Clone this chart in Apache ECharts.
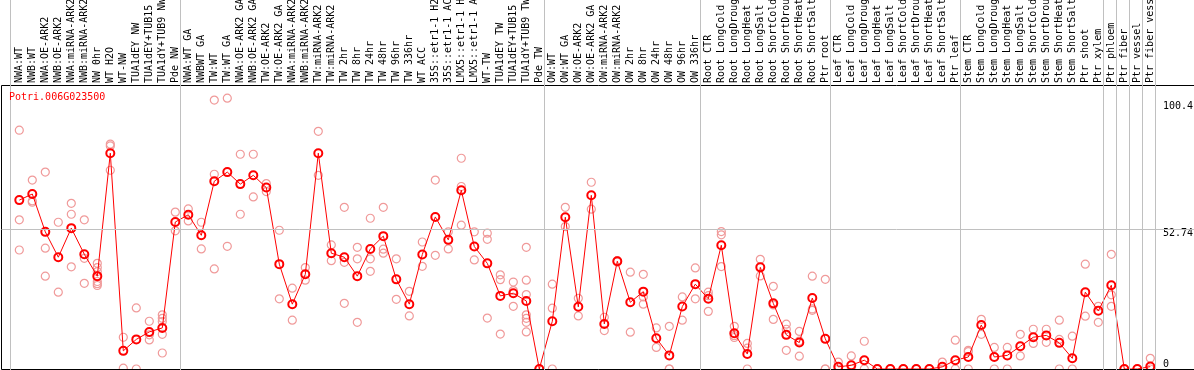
<!DOCTYPE html>
<html><head><meta charset="utf-8">
<script src="https://cdn.jsdelivr.net/npm/echarts@6/dist/echarts.min.js"></script>
<style>html,body{margin:0;padding:0;background:#fff;}#c{width:1194px;height:370px;}</style>
</head><body><div id="c"></div>
<script>
const chartTitle = 'Potri.006G023500';

const categories = [
 'NWA:WT','NWB:WT','NWA:OE-ARK2','NWB:OE-ARK2','NWA:miRNA-ARK2','NWB:miRNA-ARK2','NW 0hr','WT H2O','WT-NW','TUA1dEY NW',
 'TUA1dEY+TUB15 NW','TUA1dY+TUB9 NW','Pde NW','NWA:WT GA','NWBWT GA','TW:WT','TW:WT GA','NWA:OE-ARK2 GA','NWB:OE-ARK2 GA','TW:OE-ARK2',
 'TW:OE-ARK2 GA','NWA:miRNA-ARK2 GA','NWB:miRNA-ARK2 GA','TW:miRNA-ARK2','TW:miRNA-ARK2','TW 2hr','TW 8hr','TW 24hr','TW 48hr','TW 96hr',
 'TW 336hr','WT ACC','35S::etr1-1 H2O','35S::etr1-1 ACC','LMX5::etr1-1 H2O','LMX5::etr1-1 ACC','WT-TW','TUA1dEY TW','TUA1dEY+TUB15 TW','TUA1dY+TUB9 TW',
 'Pde TW','OW:WT','OW:WT GA','OW:OE-ARK2','OW:OE-ARK2 GA','OW:miRNA-ARK2','OW:miRNA-ARK2','OW 2hr','OW 8hr','OW 24hr',
 'OW 48hr','OW 96hr','OW 336hr','Root CTR','Root LongCold','Root LongDrought','Root LongHeat','Root LongSalt','Root ShortCold','Root ShortDrought',
 'Root ShortHeat','Root ShortSalt','Ptr root','Leaf CTR','Leaf LongCold','Leaf LongDrought','Leaf LongHeat','Leaf LongSalt','Leaf ShortCold','Leaf ShortDrought',
 'Leaf ShortHeat','Leaf ShortSalt','Ptr leaf','Stem CTR','Stem LongCold','Stem LongDrought','Stem LongHeat','Stem LongSalt','Stem ShortCold','Stem ShortDrought',
 'Stem ShortHeat','Stem ShortSalt','Ptr shoot','Ptr xylem','Ptr phloem','Ptr fiber','Ptr vessel','Ptr fiber vessel'
];

const means = [
 63.3, 65.6, 51.4, 41.9, 52.8, 43.0, 34.8, 80.9, 6.8, 11.1,
 13.9, 15.4, 55.1, 57.8, 50.1, 70.4, 73.8, 69.3, 72.6, 68.0,
 39.3, 24.3, 35.5, 80.9, 43.4, 41.9, 34.8, 45.0, 49.8, 33.6,
 24.3, 42.9, 57.0, 48.4, 67.0, 45.9, 39.6, 27.4, 28.4, 25.5,
 0, 17.9, 56.9, 23.3, 65.1, 16.9, 40.4, 25.0, 29.0, 11.5,
 5.1, 23.4, 31.8, 26.3, 46.4, 13.4, 5.6, 38.1, 24.6, 12.8,
 9.9, 26.6, 11.3, 0.8, 1.4, 3.3, 0, 0, 0, 0,
 0, 0.8, 3.3, 4.5, 16.5, 4.5, 5.1, 8.5, 11.9, 12.6,
 9.8, 4.0, 28.8, 21.8, 31.4, 0, 0, 0.9
];

const reps = [
 [89.5,55.9,44.6],[70.8,63.0,62.5],[73.8,45.3,34.8],[55.0,28.8],[62.1,58.0,38.3],
 [55.9,41.5,32.1],[39.6,38.0,36.5,32.8,32.0,31.3],[84.3,83.6,74.5],[11.9,0.3],[22.9,0],
 [17.9,12.8,10.9],[20.3,19.0,17.8,13.0,6.0],[58.8,51.8],[60.0,55.5],[55.0,45.0],
 [100.8,73.0,37.5],[101.5,46.0],[80.5,58.0],[80.5,64.5],[69.5,66.5],
 [52.0,26.3],[30.3,18.3],[38.0,33.3],[89.1,72.6],[46.5,40.6],
 [60.6,40.0,24.6],[45.6,41.3,17.5],[56.5,41.3,36.6],[60.6,44.9,43.4],[41.3,26.1],
 [29.1,19.9],[47.6,38.5],[70.8,42.6],[51.4,45.0],[79.0,68.4,53.9],
 [51.4,40.9],[50.9,48.6,19.1],[35.3,33.5,13.1],[32.6,29.4,23.5],[45.6,33.3,27.9,20.3,19.0,17.5,13.9],
 [0,0],[31.8,22.8,0],[60.6,53.4],[26.5,19.9],[70.0,59.9],
 [19.4,14.4],[40.6,40.1],[36.3,13.8],[35.5,27.0,24.3],[15.4,8.1],
 [16.0,0,0],[27.0,18.3],[37.9,26.3],[28.8,27.5,21.6],[51.5,50.3,38.4],
 [16.0,12.5,11.8],[9.6,7.8,0],[41.1,34.9],[31.0,24.0,18.6],[16.8,14.9,7.0],
 [14.1,10.5,4.8],[34.8,22.5,22.0],[33.6,0,0],[2.6,0],[4.9,0],
 [10.4,0],[0,0],[0,0],[0,0],[0,0],
 [0,0],[2.6,0],[10.8,0],[7.0,6.5,0],[18.6,13.0],
 [8.1,0],[8.1,0],[13.0,4.9],[14.9,9.6],[14.9,10.0],
 [18.3,11.1,0],[12.3,0],[39.3,19.8],[23.5,17.5],[43.0,27.8,23.5],
 [0],[0],[4.0,0]
];

const yTickLabelsTop = [52.74, 100.4];
const yTickLabelsBottom = [0];
const gridLineValues = [52.74];
// group boundaries (in category units)
const groupSeparators = [-0.69, 12.38, 40.38, 52.38, 62.38, 72.38, 83.38, 84.38, 85.38, 86.38, 87.38];

// layout
const W = 1194, CAT_W = 13, X0 = 19.3, TOP = 85, BOT = 1, Y_MAX = 106.45, LABEL_X = 1163;
const N = categories.length;
const gL = X0 - CAT_W / 2;
const gR = W - gL - CAT_W * N;
const FONT = 'DejaVu Sans Mono';

const repData = [];
reps.forEach((arr, i) => arr.forEach(v => repData.push([i, v])));

const chart = echarts.init(document.getElementById('c'), null, {renderer: 'canvas'});
chart.setOption({
  animation: false,
  title: {
    text: chartTitle, left: 9, top: 92, padding: 0,
    textStyle: {color: '#ff0000', fontFamily: FONT, fontSize: 10, fontWeight: 'normal'}
  },
  grid: [
    {left: 1.5, right: -2, top: TOP + 0.5, bottom: 0.5, show: true, borderColor: '#000', borderWidth: 1, backgroundColor: 'transparent', z: 5, outerBoundsMode: 'none', containLabel: false},
    {left: gL, right: gR, top: TOP, bottom: BOT, outerBoundsMode: 'none', containLabel: false},
    {left: 0, right: 0, top: 0, bottom: 0, outerBoundsMode: 'none', containLabel: false}
  ],
  xAxis: [
    {gridIndex: 0, type: 'value', min: 0, max: 1, show: false},
    {gridIndex: 1, type: 'category', data: categories, position: 'top', boundaryGap: true,
     axisLine: {show: false}, axisTick: {show: false}, splitLine: {show: false},
     axisLabel: {interval: 0, rotate: 90, margin: 2, color: '#000', fontFamily: FONT, fontSize: 10, hideOverlap: false}},
    {gridIndex: 2, type: 'value', min: -X0 / CAT_W, max: (W - X0) / CAT_W, show: false}
  ],
  yAxis: [
    {gridIndex: 0, type: 'value', min: 0, max: Y_MAX, show: false},
    {gridIndex: 1, type: 'value', min: 0, max: Y_MAX, position: 'right',
     axisLine: {show: false}, axisTick: {show: false}, splitLine: {show: false},
     axisLabel: {customValues: yTickLabelsTop, inside: false, margin: LABEL_X - (W - gR), align: 'left', verticalAlign: 'top',
       color: '#000', fontFamily: FONT, fontSize: 10, formatter: v => String(v)}},
    {gridIndex: 1, type: 'value', min: 0, max: Y_MAX, position: 'right',
     axisLine: {show: false}, axisTick: {show: false}, splitLine: {show: false},
     axisLabel: {customValues: yTickLabelsBottom, inside: false, margin: LABEL_X - (W - gR), align: 'left', verticalAlign: 'bottom',
       color: '#000', fontFamily: FONT, fontSize: 10, formatter: v => String(v)}},
    {gridIndex: 2, type: 'value', min: 0, max: 1, show: false}
  ],
  series: [
    {type: 'scatter', xAxisIndex: 2, yAxisIndex: 3, data: [], silent: true, z: 0,
     markLine: {silent: true, symbol: 'none', label: {show: false},
       lineStyle: {color: '#c0c0c0', width: 1, type: 'solid'},
       data: groupSeparators.map(v => ({xAxis: v}))}},
    {type: 'scatter', xAxisIndex: 0, yAxisIndex: 0, data: [], silent: true, z: 0,
     markLine: {silent: true, symbol: 'none', label: {show: false},
       lineStyle: {color: '#c0c0c0', width: 1, type: 'solid'},
       data: gridLineValues.map(v => ({yAxis: v}))}},
    {type: 'scatter', xAxisIndex: 1, yAxisIndex: 1, data: repData, z: 2, clip: false,
     symbol: 'circle', symbolSize: 8,
     itemStyle: {color: 'rgba(0,0,0,0)', borderColor: '#f09a9a', borderWidth: 1.2, opacity: 1}},
    {type: 'line', xAxisIndex: 1, yAxisIndex: 1, data: means, z: 3, clip: false,
     symbol: 'circle', symbolSize: 8, showAllSymbol: true,
     lineStyle: {color: '#ff0000', width: 1},
     itemStyle: {color: 'rgba(0,0,0,0)', borderColor: '#ff0000', borderWidth: 2}}
  ]
});
</script></body></html>
